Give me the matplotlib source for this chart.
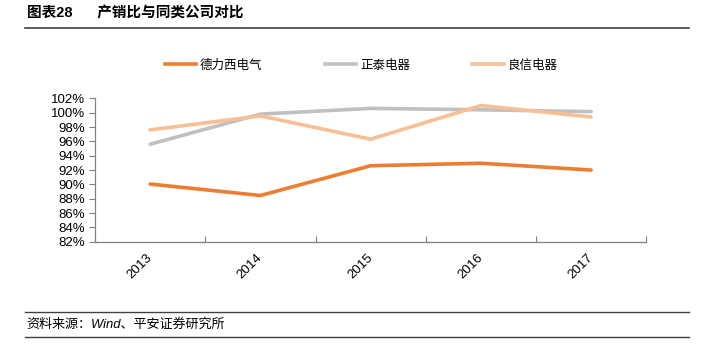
import numpy as np
import matplotlib.pyplot as plt
from matplotlib.lines import Line2D
from matplotlib.ticker import FuncFormatter

plt.rcParams['font.family'] = ['Liberation Sans', 'Noto Sans CJK SC']

years = ['2013', '2014', '2015', '2016', '2017']
delixi = [90.05, 88.45, 92.6, 92.95, 92.0]
chint = [95.6, 99.8, 100.6, 100.4, 100.15]
liangxin = [97.6, 99.55, 96.3, 101.0, 99.4]

names = ['德力西电气', '正泰电器', '良信电器']
colors = ['#ED7D31', '#C0C0C0', '#F8BE94']

fig = plt.figure(figsize=(7.04, 3.55), dpi=100)
ax = fig.add_axes([0.135, 0.319, 0.783, 0.404])

x = np.arange(len(years)) + 0.5
for y, c in zip([delixi, chint, liangxin], colors):
    ax.plot(x, y, color=c, lw=2.6, solid_capstyle='round', solid_joinstyle='round')

ax.set_xlim(0, len(years))
ax.set_ylim(82, 102)
ax.set_yticks(np.arange(82, 103, 2))
ax.yaxis.set_major_formatter(FuncFormatter(lambda v, p: f'{v:.0f}%'))
ax.set_xticks(np.arange(len(years) + 1))
ax.set_xticklabels([])
ax.set_xticks(x, minor=True)
ax.set_xticklabels(years, minor=True, rotation=45, fontsize=9.5,
                   ha='right', va='center', rotation_mode='anchor')
ax.tick_params(axis='x', which='major', direction='in', length=4, color='#808080')
ax.tick_params(axis='x', which='minor', length=0, pad=10)
ax.tick_params(axis='y', direction='out', length=4, color='#808080', labelsize=9.5, pad=3)
for s in ['top', 'right']:
    ax.spines[s].set_visible(False)
for s in ['left', 'bottom']:
    ax.spines[s].set_color('#808080')
    ax.spines[s].set_linewidth(0.9)

handles = [Line2D([0], [0], color=c, lw=2.6) for c in colors]
fig.legend(handles, names, loc='center', bbox_to_anchor=(0.513, 0.815), ncol=3,
           frameon=False, fontsize=9, handlelength=2.5, handletextpad=0.3,
           columnspacing=5.0)

# header and footer
fig.text(0.038, 0.962, '图表28      产销比与同类公司对比', fontsize=10.5, fontweight='bold',
         va='center', ha='left')
fig.add_artist(Line2D([0.035, 0.978], [0.922, 0.922], color='#404040', lw=1.2))
fig.add_artist(Line2D([0.035, 0.978], [0.121, 0.121], color='#404040', lw=1.0))
fig.add_artist(Line2D([0.035, 0.978], [0.051, 0.051], color='#404040', lw=1.0))
fig.text(0.038, 0.086, '资料来源：Wind、平安证券研究所', fontsize=9.4, style='italic',
         va='center', ha='left')

fig.savefig('out.png', dpi=100)
